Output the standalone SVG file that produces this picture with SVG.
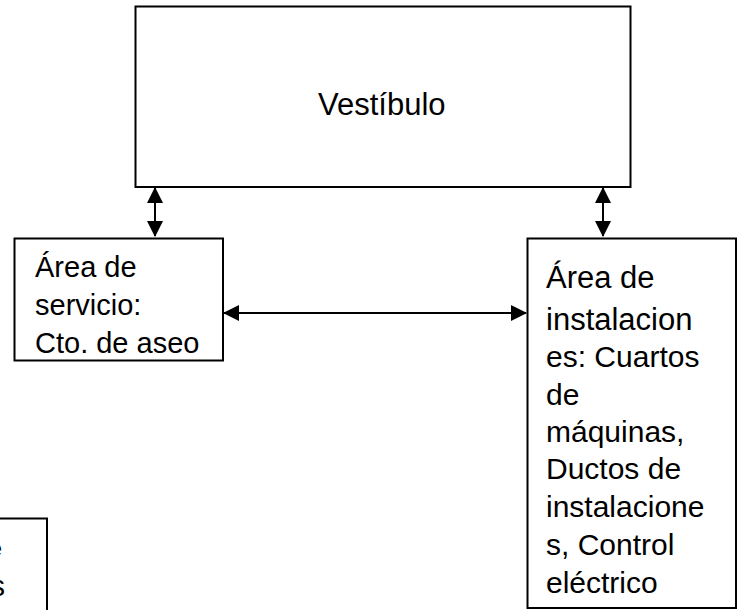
<svg xmlns="http://www.w3.org/2000/svg" width="741" height="610" viewBox="0 0 741 610">
<style>
.box{fill:#fff;stroke:#000;stroke-width:2}
.t{font-family:"Liberation Sans",Arial,sans-serif;fill:#000}
.c{stroke:#000;stroke-width:2;fill:none}
</style>
<defs>
<marker id="ah" viewBox="0 0 16 16" refX="15" refY="8" markerWidth="16" markerHeight="16" markerUnits="userSpaceOnUse" orient="auto-start-reverse">
<path d="M0,0 L16,8 L0,16 Z" fill="#000"/>
</marker>
</defs>
<g id="vestibulo">
<rect class="box" x="135.5" y="6.5" width="495" height="180.5"/>
<text class="t" x="318" y="115" font-size="31">Vestíbulo</text>
</g>
<g id="servicio">
<rect class="box" x="14.5" y="238.5" width="208.5" height="122"/>
<text class="t" font-size="29"><tspan x="35" y="277">Área de</tspan><tspan x="35" y="315">servicio:</tspan><tspan x="35" y="353">Cto. de aseo</tspan></text>
</g>
<g id="instalaciones">
<rect class="box" x="527.5" y="238.5" width="208.5" height="369.5"/>
<text class="t" font-size="31"><tspan x="546" y="288">Área de</tspan><tspan x="546" y="330">instalacion</tspan></text>
<text class="t" font-size="30"><tspan x="546" y="367">es: Cuartos</tspan><tspan x="546" y="405">de</tspan><tspan x="546" y="442">máquinas,</tspan><tspan x="546" y="479">Ductos de</tspan><tspan x="546" y="517">instalacione</tspan><tspan x="546" y="555">s, Control</tspan><tspan x="546" y="593">eléctrico</tspan></text>
</g>
<g id="partial">
<rect class="box" x="-10" y="518.5" width="57" height="110"/>
<text class="t" font-size="22" x="2" y="556" text-anchor="end">e</text>
<text class="t" font-size="29" x="5" y="596" text-anchor="end">s</text>
</g>
<g id="connectors">
<line class="c" x1="155" y1="188" x2="155" y2="236" marker-start="url(#ah)" marker-end="url(#ah)"/>
<line class="c" x1="603" y1="188" x2="603" y2="236" marker-start="url(#ah)" marker-end="url(#ah)"/>
<line class="c" x1="224" y1="313" x2="526" y2="313" marker-start="url(#ah)" marker-end="url(#ah)"/>
</g>
</svg>
